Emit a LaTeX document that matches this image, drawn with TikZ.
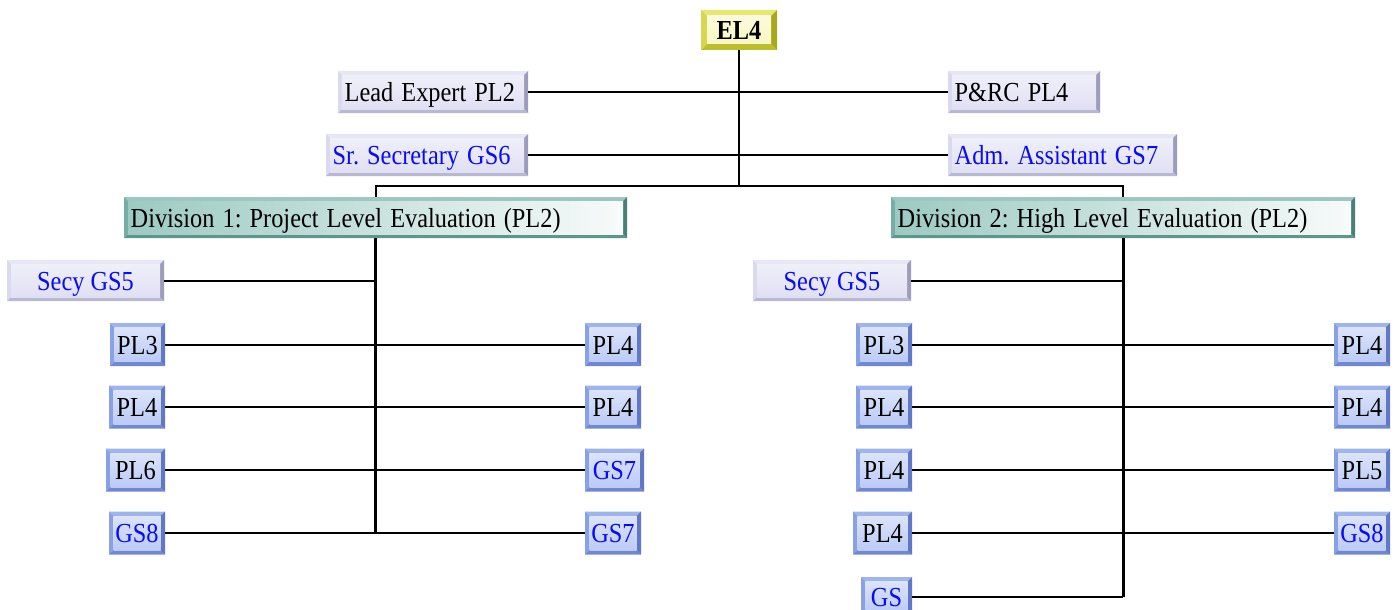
\documentclass[tikz,border=0pt]{standalone}
\usepackage{fontspec}
\usepackage{graphicx}
\setmainfont{Liberation Serif}
\usetikzlibrary{calc}
\frenchspacing
\definecolor{lavT}{RGB}{230,230,245}
\definecolor{lavL}{RGB}{218,218,238}
\definecolor{lavR}{RGB}{156,156,188}
\definecolor{lavB}{RGB}{184,184,210}
\definecolor{lavI}{RGB}{224,224,244}
\definecolor{bluT}{RGB}{160,180,236}
\definecolor{bluL}{RGB}{136,160,228}
\definecolor{bluR}{RGB}{96,120,198}
\definecolor{bluB}{RGB}{112,136,210}
\definecolor{bluI}{RGB}{176,194,244}
\definecolor{teaT}{RGB}{156,200,192}
\definecolor{teaL}{RGB}{118,174,164}
\definecolor{teaR}{RGB}{70,128,118}
\definecolor{teaB}{RGB}{92,150,140}
\definecolor{teaI}{RGB}{156,202,194}
\definecolor{yelT}{RGB}{232,232,112}
\definecolor{yelL}{RGB}{214,214,80}
\definecolor{yelR}{RGB}{168,168,30}
\definecolor{yelB}{RGB}{190,190,44}
\definecolor{yelI}{RGB}{248,248,196}
\definecolor{txtblue}{RGB}{10,10,250}
\newcommand\tx[1]{\scalebox{0.885}[1]{#1}}
\newcommand\bevframe[5]{%
  \coordinate (pnw) at (path picture bounding box.north west);
  \coordinate (pse) at (path picture bounding box.south east);
  \coordinate (pne) at (path picture bounding box.north east);
  \coordinate (psw) at (path picture bounding box.south west);
  \fill[#1] (pnw) -- (pne) -- ([xshift=-#5,yshift=-#5]pne) -- ([xshift=#5,yshift=-#5]pnw) -- cycle;
  \fill[#2] (pnw) -- ([xshift=#5,yshift=-#5]pnw) -- ([xshift=#5,yshift=#5]psw) -- (psw) -- cycle;
  \fill[#4] (psw) -- (pse) -- ([xshift=-#5,yshift=#5]pse) -- ([xshift=#5,yshift=#5]psw) -- cycle;
  \fill[#3] (pne) -- (pse) -- ([xshift=-#5,yshift=#5]pse) -- ([xshift=-#5,yshift=-#5]pne) -- cycle;
}
\newcommand\innerV[4]{% top, middle, bottom, bevel width
  \shade[top color=#1, middle color=#2, bottom color=#3] ([xshift=#4,yshift=-#4]pnw) rectangle ([xshift=-#4,yshift=#4]pse);}
\newcommand\innerH[3]{% left, right, bevel width
  \shade[left color=#1, right color=#2] ([xshift=#3,yshift=-#3]pnw) rectangle ([xshift=-#3,yshift=#3]pse);}
\tikzset{
  box/.style={inner sep=0pt, text height=19pt, text depth=0pt, font=\fontsize{27.5}{30}\selectfont},
  lavbox/.style={box, path picture={\bevframe{lavT}{lavL}{lavR}{lavB}{4pt}\innerV{lavI!50!white}{white}{lavI}{4pt}}},
  blubox/.style={box, minimum height=43pt, path picture={\bevframe{bluT}{bluL}{bluR}{bluB}{4.5pt}\innerV{bluI!45!white}{white}{bluI!85!white}{4.5pt}}},
  teabox/.style={box, minimum height=41pt, path picture={\bevframe{teaT}{teaL}{teaR}{teaB}{4pt}\innerH{teaI}{white!92!teaI}{4pt}}},
  yelbox/.style={box, path picture={\bevframe{yelT}{yelL}{yelR}{yelB}{6pt}\innerV{yelI!60!white}{white}{yelI}{6pt}}},
  lefttext/.style={anchor=west, align=left, inner xsep=6.5pt, text width=#1},
  bt/.style={text=txtblue},
  conn/.style={draw=black, line width=2pt},
  spine/.style={draw=black, line width=2.6pt},
}
\begin{document}
\begin{tikzpicture}[x=1pt,y=-1pt]
\useasboundingbox (0,0) rectangle (1397,610);
\clip (0,0) rectangle (1397,610);
% top
\node[yelbox, minimum width=76pt, minimum height=40pt, font=\fontsize{27.5}{30}\selectfont\bfseries] (el4) at (739,30) {\tx{EL4}};
\node[lavbox, minimum height=42pt, lefttext=177pt] (lead) at (338,92) {\tx{Lead Expert PL2}};
\node[lavbox, minimum height=42pt, lefttext=139pt] (prc) at (948,92) {\tx{P\&RC PL4}};
\node[lavbox, bt, minimum height=42pt, lefttext=189pt] (srsec) at (326,155) {\tx{Sr. Secretary GS6}};
\node[lavbox, bt, minimum height=42pt, lefttext=216pt] (adm) at (948,155) {\tx{Adm. Assistant GS7}};
\node[teabox, lefttext=490pt] (div1) at (124,217.5) {\tx{Division 1: Project Level Evaluation (PL2)}};
\node[teabox, lefttext=451pt] (div2) at (891,217.5) {\tx{Division 2: High Level Evaluation (PL2)}};
\node[lavbox, bt, minimum width=157pt, minimum height=41pt] (secy1) at (85.5,280.5) {\tx{Secy GS5}};
\node[lavbox, bt, minimum width=158pt, minimum height=41pt] (secy2) at (832,280.5) {\tx{Secy GS5}};
% division 1
\node[blubox, minimum width=55pt] (a1) at (137.5,344.5) {\tx{PL3}};
\node[blubox, minimum width=56pt] (a2) at (137,407) {\tx{PL4}};
\node[blubox, minimum width=59pt] (a3) at (135.5,470) {\tx{PL6}};
\node[blubox, bt, minimum width=56pt] (a4) at (137,533) {\tx{GS8}};
\node[blubox, minimum width=56pt] (b1) at (613,344.5) {\tx{PL4}};
\node[blubox, minimum width=56pt] (b2) at (613,407) {\tx{PL4}};
\node[blubox, bt, minimum width=59pt] (b3) at (614.5,470) {\tx{GS7}};
\node[blubox, bt, minimum width=56pt] (b4) at (613,533) {\tx{GS7}};
% division 2
\node[blubox, minimum width=56pt] (c1) at (884,344.5) {\tx{PL3}};
\node[blubox, minimum width=56pt] (c2) at (884,407) {\tx{PL4}};
\node[blubox, minimum width=56pt] (c3) at (884,470) {\tx{PL4}};
\node[blubox, minimum width=59pt] (c4) at (882.5,533) {\tx{PL4}};
\node[blubox, bt, minimum width=51pt, minimum height=40pt] (c5) at (886.5,597) {\tx{GS}};
\node[blubox, minimum width=56pt] (d1) at (1362,344.5) {\tx{PL4}};
\node[blubox, minimum width=56pt] (d2) at (1362,407) {\tx{PL4}};
\node[blubox, minimum width=56pt] (d3) at (1362,470) {\tx{PL5}};
\node[blubox, bt, minimum width=56pt] (d4) at (1362,533) {\tx{GS8}};
% connectors
\coordinate (jy) at (0,186);
\draw[spine] (el4.south) -- (el4.south |- jy);
\draw[conn] (div1.north) -- (div1.north |- jy) -- (div2.north |- jy) -- (div2.north);
\draw[conn] (lead.east) -- (prc.west);
\draw[conn] (srsec.east) -- (adm.west);
\draw[spine] (div1.south) -- (div1.south |- a4.east);
\draw[conn] (secy1.east) -- (secy1.east -| div1.south);
\draw[conn] (a1.east) -- (b1.west);
\draw[conn] (a2.east) -- (b2.west);
\draw[conn] (a3.east) -- (b3.west);
\draw[conn] (a4.east) -- (b4.west);
\draw[spine] (div2.south) -- (div2.south |- c5.east);
\draw[conn] (secy2.east) -- (secy2.east -| div2.south);
\draw[conn] (c1.east) -- (d1.west);
\draw[conn] (c2.east) -- (d2.west);
\draw[conn] (c3.east) -- (d3.west);
\draw[conn] (c4.east) -- (d4.west);
\draw[conn] (c5.east) -- (c5.east -| div2.south);
\end{tikzpicture}
\end{document}
